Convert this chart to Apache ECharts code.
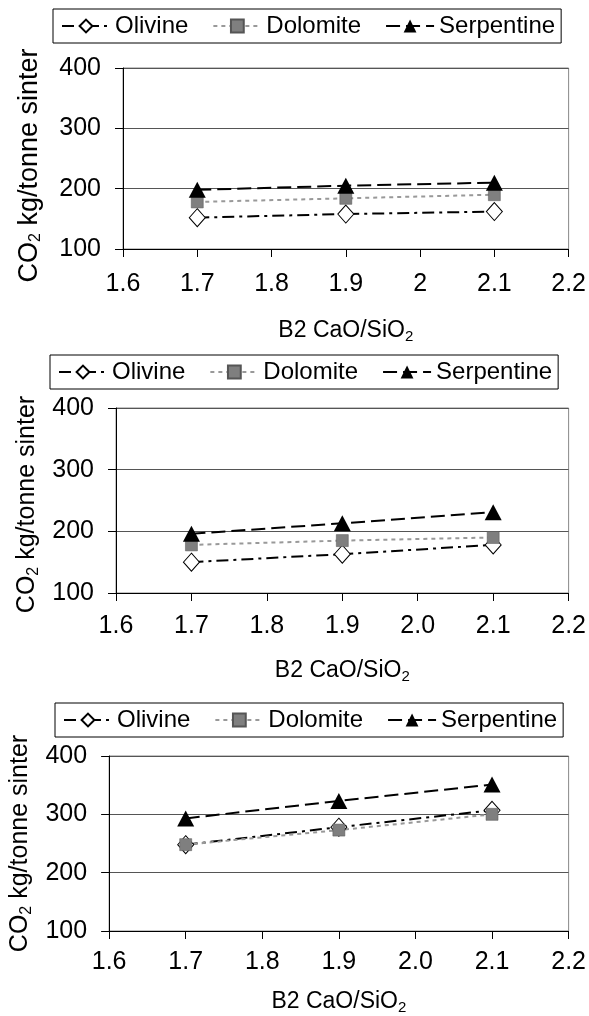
<!DOCTYPE html>
<html lang="en">
<head>
    <meta charset="utf-8">
    <title>CO2 kg/tonne sinter vs B2 CaO/SiO2</title>
    <style>
        html, body { margin: 0; padding: 0; background: #fff; }
    </style>
</head>
<body>
    <div id="main" style="width:589px;height:1016px;"></div>
    <script src="https://cdn.jsdelivr.net/npm/echarts@6/dist/echarts.min.js"></script>
    <script type="text/javascript">
    var myChart = echarts.init(document.getElementById('main'));

    // basicity values (x)
    var basicity = [1.7, 1.9, 2.1];
    var seriesNames = ['Olivine', 'Dolomite', 'Serpentine'];

    // panel 1
    var olivine1 = [152, 158, 162];
    var dolomite1 = [178, 184, 190];
    var serpentine1 = [198, 205, 210];
    // panel 2
    var olivine2 = [150, 163, 178];
    var dolomite2 = [178, 185, 190];
    var serpentine2 = [196, 213, 231];
    // panel 3
    var olivine3 = [248, 278, 307];
    var dolomite3 = [248, 273, 300];
    var serpentine3 = [293, 323, 351];

    var panels = [
        { ol: olivine1, dol: dolomite1, ser: serpentine1, oneDecimal: false,
          grid: { left: 123, top: 68, width: 447, height: 181 },
          legend: { left: 53, top: 9 }, xNameGap: 69, xLabelMargin: 23,
          yNameGap: 79, yNameSize: 27, yNamePad: [0, 14, 0, 0] },
        { ol: olivine2, dol: dolomite2, ser: serpentine2, oneDecimal: true,
          grid: { left: 116, top: 408, width: 456, height: 185 },
          legend: { left: 50, top: 355 }, xNameGap: 65, xLabelMargin: 21,
          yNameGap: 73, yNameSize: 25, yNamePad: [0, 8, 0, 0] },
        { ol: olivine3, dol: dolomite3, ser: serpentine3, oneDecimal: true,
          grid: { left: 109, top: 756, width: 468, height: 179 },
          legend: { left: 55, top: 703 }, xNameGap: 58, xLabelMargin: 19,
          yNameGap: 70, yNameSize: 25, yNamePad: [0, 0, 0, 0] }
    ];

    var font = 'Liberation Sans, Arial, sans-serif';

    function pairs(ys) {
        return basicity.map(function (x, i) { return [x, ys[i]]; });
    }

    var grids = [], xAxes = [], yAxes = [], legends = [], series = [];

    panels.forEach(function (p, k) {
        grids.push({
            left: p.grid.left, top: p.grid.top, width: p.grid.width, height: p.grid.height,
            show: true, borderColor: '#888', borderWidth: 1, backgroundColor: 'transparent'
        });
        xAxes.push({
            gridIndex: k,
            type: 'value',
            min: 1.6, max: 2.2, interval: 0.1,
            name: 'B2 CaO/SiO{sub|2}',
            nameLocation: 'middle',
            nameGap: p.xNameGap,
            nameTextStyle: {
                fontFamily: font, fontSize: 23, color: '#000',
                rich: { sub: { fontFamily: font, fontSize: 15, color: '#000', verticalAlign: 'bottom', padding: [11, 0, 0, 0] } }
            },
            axisLine: { show: true, onZero: false, lineStyle: { color: '#000', width: 1 } },
            axisTick: { show: true, inside: false, length: 8, lineStyle: { color: '#000' } },
            splitLine: { show: false },
            axisLabel: {
                fontFamily: font, fontSize: 25, color: '#000', margin: p.xLabelMargin,
                formatter: function (v) {
                    return p.oneDecimal ? v.toFixed(1) : String(Math.round(v * 10) / 10);
                }
            }
        });
        yAxes.push({
            gridIndex: k,
            type: 'value',
            min: 100, max: 400, interval: 100,
            name: 'CO{sub|2} kg/tonne sinter',
            nameLocation: 'middle',
            nameRotate: 90,
            nameGap: p.yNameGap,
            nameTextStyle: {
                fontFamily: font, fontSize: p.yNameSize, color: '#000',
                padding: p.yNamePad,
                rich: { sub: { fontFamily: font, fontSize: 16, color: '#000', verticalAlign: 'bottom', padding: [12, 0, 0, 0] } }
            },
            axisLine: { show: true, onZero: false, lineStyle: { color: '#000', width: 1 } },
            axisTick: { show: true, inside: false, length: 8, lineStyle: { color: '#000' } },
            splitLine: { show: true, lineStyle: { color: '#555', width: 1 } },
            axisLabel: { fontFamily: font, fontSize: 25, color: '#000', margin: 22 }
        });
        legends.push({
            left: p.legend.left, top: p.legend.top,
            data: seriesNames,
            orient: 'horizontal',
            borderColor: '#000', borderWidth: 1,
            padding: [5, 6, 5, 8],
            itemWidth: 48, itemHeight: 16, itemGap: 24,
            selectedMode: false,
            textStyle: { fontFamily: font, fontSize: 24, color: '#000' }
        });
        series.push({
            name: 'Olivine', type: 'line', xAxisIndex: k, yAxisIndex: k,
            data: pairs(p.ol),
            symbol: 'diamond', symbolSize: [16, 18],
            lineStyle: { color: '#000', width: 2, type: [12, 5, 3, 5] },
            itemStyle: { color: '#fff', borderColor: '#000', borderWidth: 1 },
            animation: false
        });
        series.push({
            name: 'Dolomite', type: 'line', xAxisIndex: k, yAxisIndex: k,
            data: pairs(p.dol),
            symbol: 'rect', symbolSize: 12,
            lineStyle: { color: '#999', width: 2, type: [4, 4] },
            itemStyle: { color: '#7f7f7f', borderColor: '#555', borderWidth: 0.5 },
            animation: false
        });
        series.push({
            name: 'Serpentine', type: 'line', xAxisIndex: k, yAxisIndex: k,
            data: pairs(p.ser),
            symbol: 'triangle', symbolSize: [17, 16],
            lineStyle: { color: '#000', width: 2, type: [14, 6] },
            itemStyle: { color: '#000' },
            animation: false
        });
    });

    var option = {
        backgroundColor: '#fff',
        animation: false,
        grid: grids,
        xAxis: xAxes,
        yAxis: yAxes,
        legend: legends,
        series: series
    };
    myChart.setOption(option);
    </script>
</body>
</html>
